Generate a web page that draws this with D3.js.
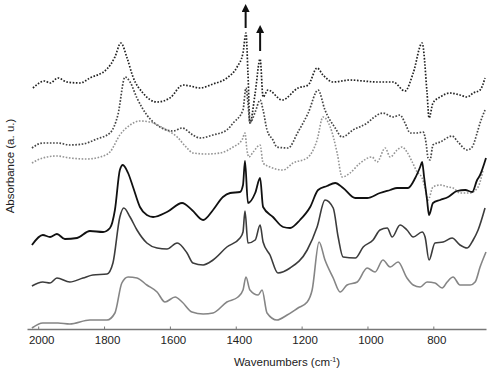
<!DOCTYPE html>
<html>
<head>
<meta charset="utf-8">
<script src="https://cdn.jsdelivr.net/npm/d3@7"></script>
<style>
  body { margin: 0; background: #fff; }
  text { font-family: "Liberation Sans", Arial, sans-serif; }
</style>
</head>
<body>
<script>
// spectra, [wavenumber, absorbance a.u.] (offset stacked)
var dotTop = [[2016,2.41],[1980,2.48],[1964,2.46],[1940,2.51],[1913,2.47],[1873,2.46],[1843,2.51],[1791,2.60],[1767,2.72],[1749,2.86],[1730,2.71],[1712,2.52],[1682,2.36],[1639,2.27],[1600,2.31],[1560,2.44],[1539,2.43],[1509,2.41],[1469,2.45],[1427,2.51],[1396,2.62],[1378,2.76],[1369,2.96],[1363,2.56],[1357,2.06],[1341,2.36],[1326,2.70],[1317,2.32],[1302,2.39],[1259,2.29],[1211,2.41],[1180,2.44],[1153,2.61],[1135,2.54],[1104,2.47],[1053,2.49],[1013,2.48],[971,2.47],[922,2.47],[886,2.38],[861,2.56],[834,2.86],[819,2.36],[813,2.11],[801,2.26],[779,2.32],[749,2.36],[719,2.34],[697,2.32],[679,2.36],[658,2.39],[643,2.51]];
var dotMid = [[2019,1.81],[1986,1.86],[1940,1.86],[1904,1.84],[1864,1.85],[1822,1.90],[1782,1.96],[1758,2.14],[1736,2.52],[1721,2.47],[1700,2.31],[1670,2.14],[1630,2.02],[1590,1.98],[1563,2.01],[1530,1.94],[1509,1.91],[1469,1.94],[1427,1.99],[1408,2.06],[1378,2.19],[1369,2.41],[1363,2.26],[1357,2.06],[1341,2.17],[1326,2.29],[1317,2.19],[1305,1.99],[1287,1.89],[1275,1.82],[1241,1.81],[1211,1.97],[1180,2.16],[1150,2.39],[1129,2.19],[1098,2.01],[1077,1.92],[1044,1.99],[1001,2.06],[983,2.11],[953,2.16],[922,2.12],[901,2.14],[886,2.06],[870,1.96],[849,1.96],[831,1.97],[822,1.86],[816,1.71],[810,1.69],[801,1.84],[779,1.87],[743,1.93],[725,1.87],[697,1.79],[682,1.82],[667,1.96],[658,2.06],[643,2.19]];
var dotLow = [[2019,1.66],[1986,1.71],[1943,1.73],[1904,1.71],[1852,1.70],[1812,1.72],[1782,1.77],[1752,1.94],[1721,2.04],[1691,2.08],[1660,2.07],[1621,2.01],[1578,1.92],[1548,1.81],[1530,1.76],[1487,1.75],[1448,1.76],[1408,1.82],[1381,1.89],[1372,1.96],[1366,1.79],[1360,1.72],[1347,1.77],[1326,1.84],[1317,1.66],[1296,1.62],[1256,1.59],[1226,1.66],[1183,1.71],[1153,1.89],[1135,2.12],[1113,2.02],[1092,1.76],[1077,1.52],[1053,1.56],[1022,1.66],[986,1.72],[971,1.67],[946,1.81],[931,1.72],[910,1.79],[895,1.82],[880,1.77],[864,1.67],[849,1.57],[834,1.51],[825,1.41],[816,1.29],[801,1.42],[779,1.44],[755,1.42],[740,1.41],[719,1.36],[688,1.36],[664,1.42],[649,1.59]];
var solidTop = [[2019,0.84],[1986,0.94],[1964,0.92],[1943,0.95],[1919,0.90],[1882,0.91],[1843,0.98],[1803,0.97],[1782,1.01],[1767,1.19],[1752,1.59],[1743,1.64],[1727,1.56],[1712,1.42],[1691,1.22],[1670,1.14],[1651,1.12],[1609,1.17],[1563,1.26],[1533,1.19],[1499,1.09],[1469,1.19],[1439,1.32],[1417,1.36],[1387,1.37],[1378,1.44],[1372,1.68],[1363,1.26],[1341,1.36],[1326,1.51],[1317,1.22],[1287,1.12],[1256,1.02],[1235,1.01],[1205,1.09],[1174,1.22],[1150,1.39],[1123,1.43],[1098,1.46],[1074,1.41],[1037,1.31],[1001,1.31],[962,1.36],[931,1.39],[910,1.41],[877,1.41],[855,1.51],[840,1.62],[834,1.67],[828,1.52],[819,1.29],[813,1.14],[801,1.26],[779,1.29],[755,1.32],[728,1.38],[703,1.39],[682,1.37],[667,1.49],[658,1.54],[640,1.71]];
var solidMid = [[2019,0.43],[1986,0.47],[1964,0.46],[1943,0.51],[1904,0.47],[1864,0.51],[1834,0.54],[1791,0.55],[1773,0.66],[1752,1.12],[1740,1.21],[1721,1.12],[1700,0.99],[1670,0.86],[1639,0.81],[1609,0.80],[1578,0.86],[1548,0.76],[1530,0.66],[1499,0.64],[1469,0.69],[1427,0.82],[1387,0.91],[1378,0.97],[1372,1.18],[1363,0.86],[1341,0.89],[1326,1.04],[1317,0.87],[1296,0.74],[1272,0.56],[1235,0.61],[1183,0.79],[1153,1.02],[1129,1.29],[1104,1.21],[1089,0.92],[1074,0.72],[1037,0.71],[1013,0.82],[983,0.89],[962,0.99],[940,1.01],[925,0.92],[901,1.04],[880,0.99],[861,0.92],[834,0.97],[825,0.92],[813,0.69],[795,0.86],[770,0.87],[743,0.91],[719,0.84],[697,0.81],[679,0.89],[664,0.99],[643,1.21]];
var solidLow = [[2019,0.01],[1986,0.06],[1940,0.06],[1904,0.05],[1843,0.09],[1791,0.09],[1767,0.16],[1746,0.46],[1727,0.52],[1700,0.51],[1670,0.44],[1639,0.37],[1615,0.27],[1584,0.32],[1563,0.27],[1533,0.17],[1499,0.15],[1469,0.16],[1427,0.27],[1393,0.32],[1378,0.39],[1369,0.52],[1357,0.39],[1332,0.34],[1320,0.39],[1305,0.16],[1275,0.09],[1244,0.14],[1211,0.21],[1183,0.27],[1168,0.39],[1147,0.87],[1129,0.69],[1104,0.51],[1083,0.37],[1062,0.44],[1031,0.47],[1001,0.61],[977,0.57],[953,0.69],[931,0.62],[907,0.67],[880,0.51],[861,0.44],[840,0.42],[819,0.47],[795,0.46],[773,0.41],[758,0.47],[740,0.52],[719,0.44],[688,0.44],[673,0.47],[658,0.62],[640,0.77]];

// off-scale peaks marked by arrows: wavenumber, arrow start, arrow tip
var arrowWn = [1370, 1326];
var arrowFrom = [3.01, 2.78];
var arrowTo = [3.25, 3.04];

var xTicks = [2000, 1800, 1600, 1400, 1200, 1000, 800];

var w = 490, h = 374;
var svg = d3.select("body").append("svg")
    .attr("width", w)
    .attr("height", h);

var x = d3.scaleLinear().domain([2034, 640]).range([27, 486]);
var y = d3.scaleLinear().domain([0, 3.29]).range([329, 0]);

var series = [
    { data: dotTop, color: "#222222", dash: "1.6,1.6", width: 1.7 },
    { data: dotMid, color: "#444444", dash: "1.6,1.6", width: 1.7 },
    { data: dotLow, color: "#959595", dash: "1.6,1.6", width: 1.6 },
    { data: solidTop, color: "#111111", dash: null, width: 1.8 },
    { data: solidMid, color: "#3c3c3c", dash: null, width: 1.6 },
    { data: solidLow, color: "#858585", dash: null, width: 1.6 }
];

var line = d3.line()
    .x(function(d) { return x(d[0]); })
    .y(function(d) { return y(d[1]); })
    .curve(d3.curveMonotoneX);

svg.selectAll("path.spec")
    .data(series)
    .enter()
    .append("path")
    .attr("class", "spec")
    .attr("d", function(d) { return line(d.data); })
    .attr("fill", "none")
    .attr("stroke", function(d) { return d.color; })
    .attr("stroke-width", function(d) { return d.width; })
    .attr("stroke-dasharray", function(d) { return d.dash; })
    .attr("stroke-linejoin", "round");

// arrows
svg.append("defs").append("marker")
    .attr("id", "head")
    .attr("viewBox", "0 0 10 10")
    .attr("refX", 5).attr("refY", 5)
    .attr("markerWidth", 4).attr("markerHeight", 4)
    .attr("orient", "auto")
    .append("path")
    .attr("d", "M0,0L10,5L0,10Z")
    .attr("fill", "#111");

svg.selectAll("line.arrow")
    .data(arrowWn)
    .enter()
    .append("line")
    .attr("class", "arrow")
    .attr("x1", function(d) { return x(d); })
    .attr("x2", function(d) { return x(d); })
    .attr("y1", function(d, i) { return y(arrowFrom[i]); })
    .attr("y2", function(d, i) { return y(arrowTo[i]) + 4; })
    .attr("stroke", "#111")
    .attr("stroke-width", 2)
    .attr("marker-end", "url(#head)");

// x axis
var xAxis = d3.axisBottom(x)
    .tickValues(xTicks)
    .tickFormat(d3.format("d"))
    .tickSizeInner(-2.5)
    .tickSizeOuter(0)
    .tickPadding(7);
var gx = svg.append("g")
    .attr("transform", "translate(0," + y(0) + ")")
    .call(xAxis);
gx.select(".domain").attr("stroke", "#777").attr("stroke-width", 1.3);
gx.selectAll(".tick line").attr("stroke", "#777");
gx.selectAll(".tick text")
    .attr("font-size", "11.5px")
    .attr("fill", "#222")
    .attr("dx", 3);

var xt = svg.append("text")
    .attr("x", 287)
    .attr("y", 366)
    .attr("text-anchor", "middle")
    .attr("font-size", "11.5px")
    .attr("fill", "#222")
    .text("Wavenumbers (cm");
xt.append("tspan").attr("font-size", "7px").attr("dy", -4).text("-1");
xt.append("tspan").attr("dy", 4).text(")");

svg.append("text")
    .attr("transform", "translate(14,166) rotate(-90)")
    .attr("text-anchor", "middle")
    .attr("font-size", "11.5px")
    .attr("fill", "#222")
    .text("Absorbance (a. u.)");
</script>
</body>
</html>
